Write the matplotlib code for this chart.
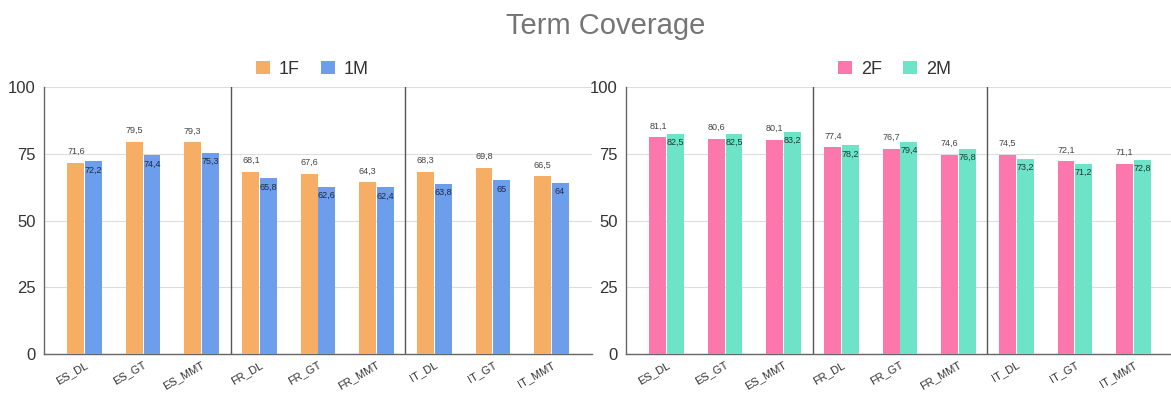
import matplotlib.pyplot as plt
import matplotlib.transforms as mtransforms
import numpy as np

plt.rcParams['font.family'] = ['Liberation Sans', 'DejaVu Sans']

categories = ['ES_DL', 'ES_GT', 'ES_MMT', 'FR_DL', 'FR_GT', 'FR_MMT', 'IT_DL', 'IT_GT', 'IT_MMT']

# first set
f1 = [71.6, 79.5, 79.3, 68.1, 67.6, 64.3, 68.3, 69.8, 66.5]
m1 = [72.2, 74.4, 75.3, 65.8, 62.6, 62.4, 63.8, 65, 64]

# second set
f2 = [81.1, 80.6, 80.1, 77.4, 76.7, 74.6, 74.5, 72.1, 71.1]
m2 = [82.5, 82.5, 83.2, 78.2, 79.4, 76.8, 73.2, 71.2, 72.8]

yticks = [0, 25, 50, 75, 100]


def fmt(v):
    # decimal comma, integers without decimals
    if float(v).is_integer():
        return str(int(v))
    return ('%.1f' % v).replace('.', ',')


def panel(fig, ax, fvals, mvals, labels, colors, mtext):
    x = np.arange(len(categories))
    w = 0.29
    off = 0.152
    bf = ax.bar(x - off, fvals, w, color=colors[0], label=labels[0], zorder=3)
    bm = ax.bar(x + off, mvals, w, color=colors[1], label=labels[1], zorder=3)
    for rect, v in zip(bf, fvals):
        ax.annotate(fmt(v), (rect.get_x() + rect.get_width() / 2, v),
                    xytext=(0, 5), textcoords='offset points',
                    ha='center', va='bottom', fontsize=6.5, color='#444444')
    for rect, v in zip(bm, mvals):
        ax.annotate(fmt(v), (rect.get_x() + rect.get_width() / 2, v),
                    xytext=(0, -3), textcoords='offset points',
                    ha='center', va='top', fontsize=6.5, color=mtext)

    ax.set_ylim(0, 100)
    ax.set_xlim(-0.7, 8.7)
    ax.set_yticks(yticks)
    ax.set_xticks(x)
    ax.set_xticklabels(categories, rotation=30, ha='right', rotation_mode='anchor',
                       fontsize=8, color='#333333')
    # nudge the slanted labels a bit to the left of their ticks
    shift = mtransforms.ScaledTranslation(-5 / 72, 0, fig.dpi_scale_trans)
    for lab in ax.get_xticklabels():
        lab.set_transform(lab.get_transform() + shift)
    ax.tick_params(axis='y', length=0, pad=6, labelsize=12, labelcolor='#333333')
    ax.tick_params(axis='x', length=0, pad=4)
    ax.yaxis.grid(True, color='#dddddd', linewidth=0.8, zorder=0)
    for s in ['top', 'right']:
        ax.spines[s].set_visible(False)
    for s in ['left', 'bottom']:
        ax.spines[s].set_color('#666666')
        ax.spines[s].set_linewidth(1.0)
    # language group separators
    for sx in [2.5, 5.5]:
        ax.axvline(sx, color='#555555', linewidth=1.0, zorder=4)

    ax.legend(loc='lower center', bbox_to_anchor=(0.49, 1.0), ncol=2, frameon=False,
              fontsize=13, handlelength=0.75, handleheight=0.75, columnspacing=1.2,
              handletextpad=0.5, labelcolor='#333333', borderaxespad=0.1)


fig = plt.figure(figsize=(11.71, 3.94), dpi=100)
ax1 = fig.add_axes([44 / 1171, 0.1015, 548 / 1171, 0.6777])
ax2 = fig.add_axes([626 / 1171, 0.1015, 548 / 1171, 0.6777])

panel(fig, ax1, f1, m1, ['1F', '1M'], ['#f6ad64', '#6d9eeb'], '#1c2a44')
panel(fig, ax2, f2, m2, ['2F', '2M'], ['#fb77ac', '#6de4c7'], '#1d3a33')

fig.text(0.517, 0.935, 'Term Coverage', ha='center', va='center', fontsize=21, color='#757575')

fig.savefig('out.png', dpi=100)
